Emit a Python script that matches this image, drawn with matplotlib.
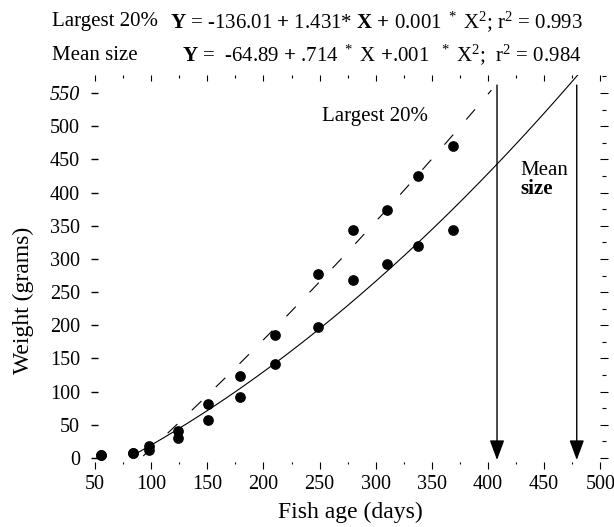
import numpy as np
import matplotlib
matplotlib.use("Agg")
import matplotlib.pyplot as plt
from matplotlib.ticker import MultipleLocator, FixedLocator

# ---------------- data ----------------
ages = [55, 84, 98, 124, 151, 179, 210, 249, 280, 310, 338, 369]
largest_wt = [5, 7, 18, 40, 81, 124, 185, 278, 344, 374, 425, 470]
mean_wt = [5, 7, 12, 30, 58, 92, 141, 197, 268, 292, 320, 344]

# regression curves  Y = c0 + c1*X + c2*X^2
largest_coef = [-136.01, 1.431, 0.0007]
mean_coef = [-64.89, 0.714, 0.0013]
largest_span = [93, 403]
mean_span = [85, 480]

arrow_ages = [408, 479]
arrow_top = 562
arrow_tip = -3

x_ticks = [50, 100, 150, 200, 250, 300, 350, 400, 450, 500]
y_ticks = [0, 50, 100, 150, 200, 250, 300, 350, 400, 450, 500, 550]

header1_name = "Largest 20%"
header1_eq = r"$\mathbf{Y}$ = -136.01 $\mathbf{+}$ 1.431* $\mathbf{X}$ $\mathbf{+}$ 0.001 $^*$ X$^2$; r$^2$ = 0.993"
header2_name = "Mean size"
header2_eq = r"$\mathbf{Y}$ =  -64.89 $\mathbf{+}$ .714 $^*$ X $\mathbf{+}$.001  $^*$ X$^2$;  r$^2$ = 0.984"

# ---------------- style ----------------
plt.rcParams['font.family'] = ['Liberation Serif', 'DejaVu Serif']
plt.rcParams['mathtext.fontset'] = 'custom'
plt.rcParams['mathtext.rm'] = 'Liberation Serif'
plt.rcParams['mathtext.bf'] = 'Liberation Serif:bold'
plt.rcParams['mathtext.it'] = 'Liberation Serif:italic'

W, H = 614, 527
fig = plt.figure(figsize=(W / 100, H / 100), dpi=100)
fig.patch.set_facecolor('white')

L, R, T, B = 90.5, 603.7, 75.1, 462.0
ax = fig.add_axes([L / W, 1 - B / H, (R - L) / W, (B - T) / H])
ax.set_xlim(46, 503)
ax.set_ylim(-6, 577)
for s in ax.spines.values():
    s.set_visible(False)

# points
ax.plot(ages, largest_wt, 'o', color='black', ms=6.7, zorder=3)
ax.plot(ages, mean_wt, 'o', color='black', ms=6.7, zorder=3)

# fitted curves
xl = np.linspace(largest_span[0], largest_span[1], 300)
ax.plot(xl, np.polynomial.polynomial.polyval(xl, largest_coef), color='black',
        lw=0.8, linestyle=(0, (12, 18)))
xm = np.linspace(mean_span[0], mean_span[1], 300)
ax.plot(xm, np.polynomial.polynomial.polyval(xm, mean_coef), color='black', lw=0.8)

# arrows
for a in arrow_ages:
    ax.annotate('', xy=(a, arrow_tip), xytext=(a, arrow_top),
                arrowprops=dict(arrowstyle='-|>,head_length=1.22,head_width=0.45',
                                mutation_scale=10, lw=1.0, color='black',
                                shrinkA=0, shrinkB=0))

# ticks
fs_tick = 14.5
ax.xaxis.set_major_locator(FixedLocator(x_ticks))
ax.xaxis.set_minor_locator(MultipleLocator(25))
ax.yaxis.set_major_locator(FixedLocator(y_ticks))
ax.tick_params(axis='x', which='major', direction='out', length=5, width=0.8,
               labelsize=fs_tick, pad=4.5, top=False)
ax.tick_params(axis='x', which='minor', direction='out', length=1.5, width=0.8, top=False)
ax.tick_params(axis='y', which='major', direction='in', length=5, width=1.0,
               labelsize=fs_tick, pad=7.6, right=False)
ax.set_xticklabels([str(v) for v in x_ticks])
ax.set_yticklabels([str(v) for v in y_ticks])
for lab in ax.get_yticklabels():
    if lab.get_text() == '550':
        lab.set_style('italic')

top = ax.secondary_xaxis('top')
top.spines['top'].set_visible(False)
top.xaxis.set_major_locator(MultipleLocator(50))
top.xaxis.set_minor_locator(MultipleLocator(25))
top.tick_params(which='major', direction='in', length=4, width=0.8, labeltop=False)
top.tick_params(which='minor', direction='in', length=2, width=0.8)
top.set_xticklabels([])

right = ax.secondary_yaxis('right')
right.spines['right'].set_visible(False)
right.yaxis.set_major_locator(MultipleLocator(50))
right.yaxis.set_minor_locator(MultipleLocator(25))
right.tick_params(which='major', direction='inout', length=6, width=0.8, labelright=False)
right.tick_params(which='minor', direction='inout', length=3, width=0.8)
right.set_yticklabels([])

# in-plot labels
ax.text(251.9, 514, "Largest 20%", fontsize=15, ha='left', va='center')
ax.text(428.5, 434, "Mean", fontsize=15, ha='left', va='center')
ax.text(429, 405, "size", fontsize=15, ha='left', va='center', fontweight='bold')

# header lines
fig.text(52 / W, 1 - 21.7 / H, header1_name, fontsize=15, ha='left', va='center')
fig.text(170 / W, 1 - 21.7 / H, header1_eq, fontsize=15, ha='left', va='center')
fig.text(52 / W, 1 - 55 / H, header2_name, fontsize=15, ha='left', va='center')
fig.text(182 / W, 1 - 55 / H, header2_eq, fontsize=15, ha='left', va='center')

# axis labels
fig.text(350 / W, 1 - 512 / H, "Fish age (days)", fontsize=17, ha='center', va='center')
fig.text(23 / W, 1 - 300 / H, "Weight (grams)", fontsize=17, ha='center', va='center',
         rotation=90)

fig.savefig("out.png", dpi=100, facecolor='white')
